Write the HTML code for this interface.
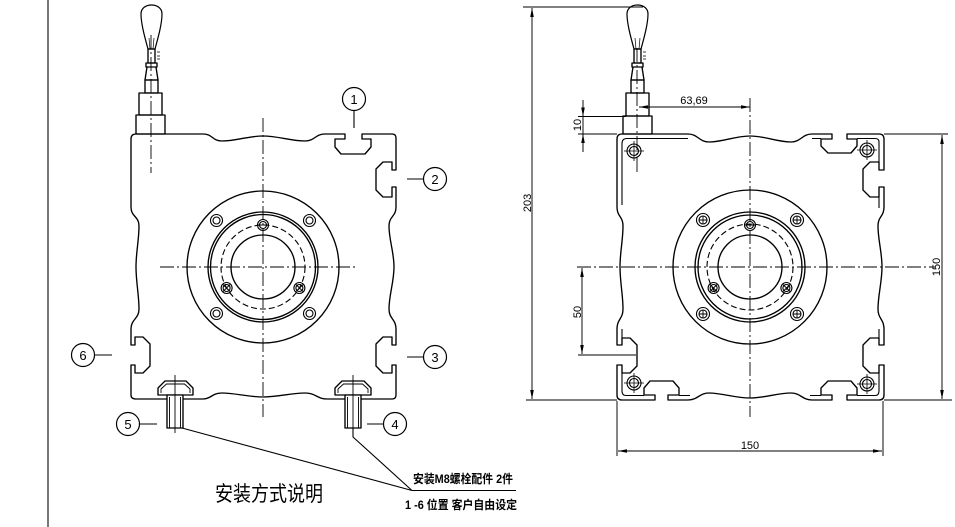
<!DOCTYPE html>
<html><head><meta charset="utf-8"><style>
html,body{margin:0;padding:0;background:#fff;}
svg{display:block;}
text{font-family:"Liberation Sans","Noto Sans CJK SC",sans-serif;fill:#000;}
</style></head><body>
<svg width="955" height="527" viewBox="0 0 955 527" xmlns="http://www.w3.org/2000/svg">
<defs>
<marker id="ar" viewBox="0 0 10 4" refX="10" refY="2" markerWidth="9" markerHeight="3.6" markerUnits="userSpaceOnUse" orient="auto-start-reverse"><path d="M0,0 L10,2 L0,4 z" fill="#000"/></marker>
</defs>
<rect width="955" height="527" fill="#fff"/>
<line x1="48" y1="0" x2="48" y2="527" stroke="#555" stroke-width="1.6"/>

<!-- ================= LEFT DRAWING ================= -->
<g fill="none" stroke="#000" stroke-width="1.35" stroke-linejoin="round">
<path d="M131,139 Q131,134 136,134 L203,134 C213,134 212,141 222,141 C236,141 248,136 263,136 C278,136 291,141 305,141 C315,141 315,134 325,134
L345,134 L345,139 L335,139 L335,147 L341,154 L365,154 L371,147 L371,139 L362,139 L362,134 L392,134 Q396,134 396,138
L396,170 L392,170 L392,162 L383,162 L376,169 L376,190 L383,197 L392,197 L392,187 L396,187 L396,207
C396,217 389,216 389,226 C389,240 394,252 394,267 C394,282 389,295 389,309 C389,319 396,319 396,329
L396,345 L392,345 L392,337 L383,337 L376,344 L376,366 L383,373 L392,373 L392,365 L396,365 L396,395 Q396,399 392,399
L327,399 C317,399 316,393 305,393 C291,393 278,397 263,397 C248,397 235,393 222,393 C212,393 211,399 203,399 L136,399 Q131,399 131,395
L131,365 L135,365 L135,373 L143,373 L150,366 L150,344 L143,337 L135,337 L135,345 L131,345 L131,329
C131,319 139,319 139,309 C139,295 136,282 136,267 C136,252 139,240 139,226 C139,216 131,217 131,207 Z" fill="#fff"/>

<!-- flange -->
<circle cx="263" cy="267" r="76"/>
<circle cx="263" cy="267" r="55"/>
<circle cx="263" cy="267" r="52.5"/>
<circle cx="263" cy="267" r="42" stroke-dasharray="6 3" stroke-width="1.1"/>
<circle cx="263" cy="267" r="32"/>
<g stroke-width="1.1">
<circle cx="216.5" cy="220.5" r="6"/><circle cx="216.5" cy="220.5" r="3.5"/>
<circle cx="309.5" cy="220.5" r="6"/><circle cx="309.5" cy="220.5" r="3.5"/>
<circle cx="216.5" cy="313.5" r="6"/><circle cx="216.5" cy="313.5" r="3.5"/>
<circle cx="309.5" cy="313.5" r="6"/><circle cx="309.5" cy="313.5" r="3.5"/>
<circle cx="263" cy="225" r="5.5"/><circle cx="263" cy="225" r="3.5"/>
<circle cx="226.6" cy="288" r="5.5"/><circle cx="226.6" cy="288" r="3.5"/>
<circle cx="299.4" cy="288" r="5.5"/><circle cx="299.4" cy="288" r="3.5"/>
<path d="M258,225 H268 M223,284.5 L230,291.5 M223,291.5 L230,284.5 M296,284.5 L303,291.5 M296,291.5 L303,284.5" stroke-width="0.9"/>
</g>

<!-- cable assembly -->
<path d="M148,49 C145,38 141,24 141,14 C141,8 146,5 151.5,5 C157,5 162,8 162,14 C162,24 158,38 155,49 Z" fill="#fff" stroke-width="1.2"/>
<path d="M150,49 L149,38 M153,49 L154,38" fill="none" stroke-width="0.7"/>
<rect x="148" y="49" width="7" height="14"/>
<rect x="146" y="63" width="11" height="4"/>
<path d="M147,67 L145,80 L158,80 L156,67"/>
<rect x="145" y="80" width="13" height="13"/>
<rect x="139" y="93" width="23" height="22"/>
<rect x="136" y="115" width="29" height="19"/>
<path d="M157,52 h3 M157,56 h3 M157,59 h3" stroke-width="0.7"/>

<!-- bolts -->
<path d="M158,395 L158,388 L165,381 L186,381 L193,388 L193,395 Z" fill="#fff"/>
<path d="M161,393 L161,389 L166.5,384 L184.5,384 L190,389 L190,393" stroke-width="0.9"/>
<rect x="167" y="395" width="16" height="33" fill="#fff"/>
<path d="M169.5,397 V428 M180.5,397 V428" stroke-width="0.9"/>
<path d="M335,395 L335,388 L342,381 L364,381 L371,388 L371,395 Z" fill="#fff"/>
<path d="M338,393 L338,389 L343.5,384 L362.5,384 L368,389 L368,393" stroke-width="0.9"/>
<rect x="345" y="395" width="16" height="33" fill="#fff"/>
<path d="M347.5,397 V428 M358.5,397 V428" stroke-width="0.9"/>
<path d="M175,375 V433 M353,375 V433" stroke-width="0.9"/>

<!-- leaders -->
<path d="M182,428 L412,490.5 M353,428 L353,437 L412,490.5 M412,490.5 L516,490.5" stroke-width="1.1"/>
<path d="M354,111 V128 M407,179 H423 M407,357 H423 M367,424 H383 M140,424 H157 M95,355 H112" stroke-width="1.1"/>
<circle cx="354" cy="99" r="11.5" fill="#fff" stroke-width="1.2"/>
<circle cx="435" cy="179" r="11.5" fill="#fff" stroke-width="1.2"/>
<circle cx="435" cy="357" r="11.5" fill="#fff" stroke-width="1.2"/>
<circle cx="395" cy="424" r="11.5" fill="#fff" stroke-width="1.2"/>
<circle cx="128" cy="424" r="11.5" fill="#fff" stroke-width="1.2"/>
<circle cx="83" cy="355" r="11.5" fill="#fff" stroke-width="1.2"/>
</g>
<g font-size="13" text-anchor="middle">
<text x="354" y="104">1</text>
<text x="435" y="184">2</text>
<text x="435" y="362">3</text>
<text x="395" y="429">4</text>
<text x="128" y="429">5</text>
<text x="83" y="360">6</text>
</g>

<!-- left centerlines -->
<g stroke="#000" stroke-width="0.9" stroke-dasharray="14 3 2 3" fill="none">
<path d="M263,118 V417"/>
<path d="M160,267 H358"/>
<path d="M151,35 V173"/>
</g>

<!-- texts -->
<text x="215" y="501" font-size="21" textLength="108" lengthAdjust="spacingAndGlyphs">安装方式说明</text>
<text x="413" y="483" font-size="12" font-weight="bold" textLength="100" lengthAdjust="spacingAndGlyphs">安装M8螺栓配件 2件</text>
<text x="405" y="509" font-size="12" font-weight="bold" textLength="112" lengthAdjust="spacingAndGlyphs">1 -6 位置 客户自由设定</text>

<!-- ================= RIGHT DRAWING ================= -->
<g fill="none" stroke="#000" stroke-width="1.35" stroke-linejoin="round">
<path d="M617,139 Q617,134 622,134 L688,134 C698,134 699,142 709,142 C723,142 735,136 750,136 C765,136 777,142 791,142 C801,142 802,134 812,134
L832,134 L832,139 L821,139 L821,146 L828,153 L851,153 L857,146 L857,139 L847,139 L847,134 L879,134 Q884,134 884,139
L884,170 L879,170 L879,162 L870,162 L863,169 L863,190 L870,197 L879,197 L879,187 L884,187 L884,207
C884,217 878,216 878,226 C878,240 882,252 882,267 C882,282 878,295 878,309 C878,319 884,319 884,329
L884,345 L879,345 L879,338 L870,338 L863,345 L863,366 L870,373 L879,373 L879,365 L884,365 L884,395 Q884,400 879,400
L847,400 L847,395 L857,395 L857,388 L851,381 L828,381 L821,388 L821,395 L832,395 L832,400 L812,400
C802,400 801,393 791,393 C777,393 765,398 750,398 C735,398 722,393 709,393 C699,393 698,400 688,400
L668,400 L668,395 L679,395 L679,388 L673,381 L650,381 L644,388 L644,395 L655,395 L655,400 L622,400 Q617,400 617,395
L617,365 L622,365 L622,373 L630,373 L637,366 L637,345 L630,338 L622,338 L622,345 L617,345 L617,329
C617,319 623,319 623,309 C623,295 620,282 620,267 C620,252 623,240 623,226 C623,216 617,217 617,207 Z" fill="#fff"/>
<!-- inner flange lines -->
<path d="M688,138.5 L627,138.5 Q622,138.5 622,143.5 L622,205" stroke-width="1.1"/>
<path d="M812,138.5 H821 M857,138.5 H875 Q879,138.5 879,142 V162 M879,197 V208 M879,329 V338 M879,373 V391 Q879,395.5 875,395.5 H857 M821,395.5 H810 M679,395.5 H690 M644,395.5 H626 Q622,395.5 622,391 V373 M622,338 V329" stroke-width="1.1"/>

<!-- corner holes -->
<g stroke-width="1.1">
<circle cx="634" cy="151" r="7"/><circle cx="634" cy="151" r="4.5"/>
<circle cx="867" cy="150" r="7"/><circle cx="867" cy="150" r="4.5"/>
<circle cx="634" cy="383" r="7"/><circle cx="634" cy="383" r="4.5"/>
<circle cx="867" cy="384" r="7"/><circle cx="867" cy="384" r="4.5"/>
<path d="M624,151 H644 M634,141 V161 M857,150 H877 M867,140 V160 M624,383 H644 M634,373 V393 M857,384 H877 M867,374 V394" stroke-width="0.8"/>
</g>

<!-- flange -->
<circle cx="750" cy="267" r="77"/>
<circle cx="750" cy="267" r="55"/>
<circle cx="750" cy="267" r="52"/>
<circle cx="750" cy="267" r="43" stroke-dasharray="6 3" stroke-width="1.1"/>
<circle cx="750" cy="267" r="32"/>
<g stroke-width="1.1">
<circle cx="703" cy="220" r="6.5"/><circle cx="703" cy="220" r="4"/>
<circle cx="797" cy="220" r="6.5"/><circle cx="797" cy="220" r="4"/>
<circle cx="703" cy="314" r="6.5"/><circle cx="703" cy="314" r="4"/>
<circle cx="797" cy="314" r="6.5"/><circle cx="797" cy="314" r="4"/>
<circle cx="750" cy="225" r="5.5"/><circle cx="750" cy="225" r="3.5"/>
<circle cx="713.6" cy="288" r="5.5"/><circle cx="713.6" cy="288" r="3.5"/>
<circle cx="786.4" cy="288" r="5.5"/><circle cx="786.4" cy="288" r="3.5"/>
<path d="M699,220 h8 M703,216 v8 M793,220 h8 M797,216 v8 M699,314 h8 M703,310 v8 M793,314 h8 M797,310 v8 M745,225 h10 M710,284.5 l7,7 M710,291.5 l7,-7 M783,284.5 l7,7 M783,291.5 l7,-7" stroke-width="0.9"/>
</g>

<!-- cable assembly -->
<path d="M634,49 C631,38 627,24 627,14 C627,8 632,5 637.5,5 C643,5 648,8 648,14 C648,24 644,38 641,49 Z" fill="#fff" stroke-width="1.2"/>
<path d="M636,49 L635,38 M639,49 L640,38" fill="none" stroke-width="0.7"/>
<rect x="634" y="49" width="7" height="14"/>
<rect x="632" y="63" width="11" height="4"/>
<path d="M633,67 L631,80 L644,80 L642,67"/>
<rect x="631" y="80" width="13" height="13"/>
<rect x="626" y="93" width="23" height="23"/>
<rect x="623" y="116" width="29" height="18"/>
<path d="M643,52 h3 M643,56 h3 M643,59 h3" stroke-width="0.7"/>
</g>

<!-- right centerlines -->
<g stroke="#000" stroke-width="0.9" stroke-dasharray="14 3 2 3" fill="none">
<path d="M750,98 V417"/>
<path d="M577,267 H935"/>
<path d="M637,48 V173"/>
</g>

<!-- dimensions -->
<g stroke="#000" stroke-width="0.95" fill="none">
<path d="M523,7 H643"/>
<path d="M526,400 H617 M884,400 H952 M884,134 H948"/>
<path d="M532,8 V399" marker-start="url(#ar)" marker-end="url(#ar)"/>
<path d="M578,116.5 H626 M578,134 H617"/>
<path d="M583,100 V116.5" marker-end="url(#ar)"/>
<path d="M583,152 V134" marker-end="url(#ar)"/>
<path d="M583,116.5 V134"/>
<path d="M639,107 H750" marker-start="url(#ar)" marker-end="url(#ar)"/>
<path d="M942,135 V399" marker-start="url(#ar)" marker-end="url(#ar)"/>
<path d="M617,401 V456 M883,401 V456"/>
<path d="M618,451 H882" marker-start="url(#ar)" marker-end="url(#ar)"/>
<path d="M582,268 V354" marker-start="url(#ar)" marker-end="url(#ar)"/>
<path d="M578,355 H636"/>
</g>
<g font-size="11">
<text transform="translate(531,203) rotate(-90)" text-anchor="middle">203</text>
<text transform="translate(581,125) rotate(-90)" text-anchor="middle">10</text>
<text transform="translate(581,312) rotate(-90)" text-anchor="middle">50</text>
<text transform="translate(940,267) rotate(-90)" text-anchor="middle">150</text>
<text x="750" y="449" text-anchor="middle">150</text>
<text x="694" y="104" text-anchor="middle">63,69</text>
</g>
</svg>
</body></html>
